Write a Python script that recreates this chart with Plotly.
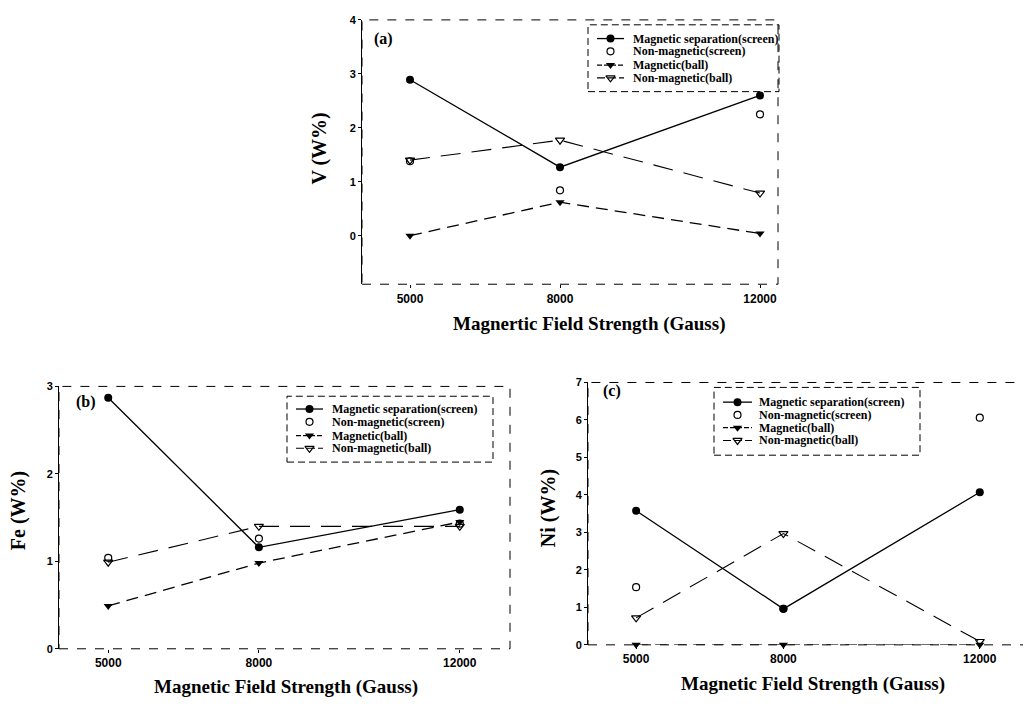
import plotly.graph_objects as go

# Browser window is 1031x707; the page body keeps its default 8px margin,
# so the figure is sized to fit inside it and positions are given in window pixels.
WIN_W, WIN_H = 1031, 707
OFF = 8
W, H = WIN_W - 2 * OFF, WIN_H - 2 * OFF

field = [5000, 8000, 12000]
field_ticks = ["5000", "8000", "12000"]

series_names = ["Magnetic separation(screen)", "Non-magnetic(screen)",
                "Magnetic(ball)", "Non-magnetic(ball)"]

# Panel (a): V (W%)
v_mag_screen = [2.89, 1.27, 2.60]
v_non_screen = [1.38, 0.84, 2.25]
v_mag_ball = [0.00, 0.62, 0.04]
v_non_ball = [1.40, 1.77, 0.79]

# Panel (b): Fe (W%)
fe_mag_screen = [2.87, 1.16, 1.59]
fe_non_screen = [1.04, 1.26, 1.43]
fe_mag_ball = [0.49, 0.98, 1.45]
fe_non_ball = [0.99, 1.40, 1.40]

# Panel (c): Ni (W%)
ni_mag_screen = [3.58, 0.96, 4.07]
ni_non_screen = [1.54, 0.96, 6.06]
ni_mag_ball = [0.00, 0.00, 0.00]
ni_non_ball = [0.72, 2.97, 0.09]

yticks_a = [0, 1, 2, 3, 4]
yticks_b = [0, 1, 2, 3]
yticks_c = [0, 1, 2, 3, 4, 5, 6, 7]

SERIF = "Liberation Serif, Times New Roman, serif"
SANS = "Liberation Sans, Arial, sans-serif"


def px_x(p):
    return (p - OFF) / W


def px_y(p):
    return 1 - (p - OFF) / H


panels = [
    dict(xa="x", ya="y", box=(362, 14, 778, 283),
         xr=[4040, 12360], yr=[-0.9, 4.0], yt=yticks_a,
         data=[v_mag_screen, v_non_screen, v_mag_ball, v_non_ball],
         ytitle="V (W%)", xtitle="Magnertic Field Strength (Gauss)",
         label="(a)", labelpos=(372, 33), legbox=(588, 19, 779, 87),
         legkey=(597, 624, 633), legy=(33, 46, 60, 73),
         ytitle_px=(320, 145), xtitle_px=(589, 323)),
    dict(xa="x2", ya="y2", box=(59, 387, 510, 654),
         xr=[4020, 13000], yr=[0, 3.0], yt=yticks_b,
         data=[fe_mag_screen, fe_non_screen, fe_mag_ball, fe_non_ball],
         ytitle="Fe (W%)", xtitle="Magnetic Field Strength (Gauss)",
         label="(b)", labelpos=(74, 403), legbox=(287, 397, 493, 464),
         legkey=(296, 323, 332), legy=(410, 423, 437, 450),
         ytitle_px=(18, 514), xtitle_px=(286, 693)),
    dict(xa="x3", ya="y3", box=(588, 383, 1030, 650),
         xr=[4020, 12880], yr=[0, 7.0], yt=yticks_c,
         data=[ni_mag_screen, ni_non_screen, ni_mag_ball, ni_non_ball],
         ytitle="Ni (W%)", xtitle="Magnetic Field Strength (Gauss)",
         label="(c)", labelpos=(601, 392), legbox=(714, 388, 920, 457),
         legkey=(723, 752, 759), legy=(403, 416, 429, 442),
         ytitle_px=(548, 511), xtitle_px=(813, 690)),
]

line_styles = [
    dict(color="black", width=1.3),
    None,
    dict(color="black", width=1.3, dash="12px,7px"),
    dict(color="black", width=1.1, dash="20px,11px"),
]
key_line_styles = [
    dict(color="black", width=1.3),
    None,
    dict(color="black", width=1.3, dash="5px,2px"),
    dict(color="black", width=1.1, dash="8px,3px"),
]
marker_styles = [
    dict(symbol="circle", size=8, color="black"),
    dict(symbol="circle-open", size=7, color="black", line=dict(width=1.2)),
    dict(symbol="triangle-down", size=8, color="black"),
    dict(symbol="triangle-down-open", size=8, color="black", line=dict(width=1.2)),
]

fig = go.Figure()
shapes = []
annotations = []
layout = {}

for i, p in enumerate(panels):
    for name, vals, ls, ms in zip(series_names, p["data"], line_styles, marker_styles):
        kw = dict(mode="lines+markers", line=ls) if ls else dict(mode="markers")
        fig.add_trace(go.Scatter(x=field, y=vals, name=name, xaxis=p["xa"], yaxis=p["ya"],
                                 showlegend=False, cliponaxis=False, marker=ms, **kw))
    l, t, r, b = p["box"]
    xkey = "xaxis" if p["xa"] == "x" else "xaxis" + p["xa"][1:]
    ykey = "yaxis" if p["ya"] == "y" else "yaxis" + p["ya"][1:]
    layout[xkey] = dict(domain=[px_x(l), min(px_x(r), 1)], range=p["xr"], anchor=p["ya"],
                        tickvals=field, ticktext=field_ticks, ticks="outside", ticklen=3,
                        tickcolor="black", showgrid=False, zeroline=False, showline=False,
                        tickfont=dict(family=SANS, size=12, color="black", weight="bold"))
    layout[ykey] = dict(domain=[px_y(b), px_y(t)], range=p["yr"], anchor=p["xa"],
                        tickvals=p["yt"], ticks="outside", ticklen=3, tickcolor="black",
                        showgrid=False, zeroline=False, showline=True, linecolor="black",
                        linewidth=1,
                        tickfont=dict(family=SANS, size=11, color="black", weight="bold"))
    # broken (scanned-looking) frame
    shapes.append(dict(type="rect", xref="paper", yref="paper", x0=px_x(l), x1=px_x(r),
                       y0=px_y(b), y1=px_y(t),
                       line=dict(color="black", width=1, dash="9px,9px")))
    # legend box
    ll, lt, lr, lb = p["legbox"]
    shapes.append(dict(type="rect", xref="paper", yref="paper", x0=px_x(ll), x1=px_x(lr),
                       y0=px_y(lb), y1=px_y(lt),
                       line=dict(color="black", width=1, dash="7px,4px")))
    # manual legend: keys drawn on an overlay pixel axis, names as text
    k0, k1, tx = p["legkey"]
    for name, ly, kls, ms in zip(series_names, p["legy"], key_line_styles, marker_styles):
        if kls:
            fig.add_trace(go.Scatter(x=[k0, k1], y=[ly, ly], mode="lines", line=kls,
                                     xaxis="x4", yaxis="y4", showlegend=False,
                                     hoverinfo="skip"))
        fig.add_trace(go.Scatter(x=[(k0 + k1) / 2], y=[ly], mode="markers", marker=ms,
                                 xaxis="x4", yaxis="y4", showlegend=False,
                                 hoverinfo="skip"))
        annotations.append(dict(text=name, xref="paper", yref="paper",
                                x=px_x(tx - 2), y=px_y(ly), xanchor="left", yanchor="middle",
                                showarrow=False,
                                font=dict(family=SERIF, size=12, color="black",
                                          weight="bold")))
    annotations.append(dict(text=p["label"], xref="paper", yref="paper",
                            x=px_x(p["labelpos"][0]), y=px_y(p["labelpos"][1]),
                            xanchor="left", yanchor="middle", showarrow=False,
                            font=dict(family=SERIF, size=16, color="black", weight="bold")))
    annotations.append(dict(text=p["ytitle"], xref="paper", yref="paper",
                            x=px_x(p["ytitle_px"][0]), y=px_y(p["ytitle_px"][1]),
                            xanchor="center", yanchor="middle", showarrow=False, textangle=-90,
                            font=dict(family=SERIF, size=20, color="black", weight="bold")))
    annotations.append(dict(text=p["xtitle"], xref="paper", yref="paper",
                            x=px_x(p["xtitle_px"][0]), y=px_y(p["xtitle_px"][1]),
                            xanchor="center", yanchor="middle", showarrow=False,
                            font=dict(family=SERIF, size=19, color="black", weight="bold")))

layout["xaxis4"] = dict(domain=[0, 1], range=[OFF, OFF + W], visible=False, fixedrange=True,
                        anchor="y4")
layout["yaxis4"] = dict(domain=[0, 1], range=[OFF + H, OFF], visible=False, fixedrange=True,
                        anchor="x4")

fig.update_layout(width=W, height=H, margin=dict(l=0, r=0, t=0, b=0),
                  paper_bgcolor="white", plot_bgcolor="rgba(0,0,0,0)",
                  shapes=shapes, annotations=annotations, **layout)

fig.write_html("out.html")
